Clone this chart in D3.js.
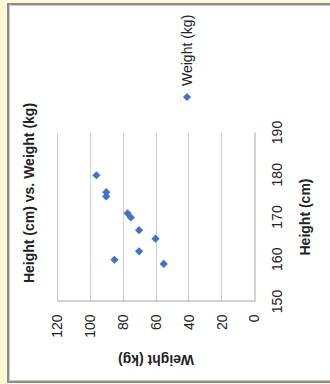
<!DOCTYPE html>
<html><head><meta charset="utf-8">
<script src="https://cdn.jsdelivr.net/npm/d3@7"></script>
<style>html,body{margin:0;padding:0;background:#fff8d4;} svg{display:block}</style>
</head><body>
<svg id="c" width="330" height="384"></svg>
<script>
const heights = [180, 176, 175, 171, 170, 167, 165, 162, 160, 159];
const weights = [96, 90, 90, 77, 75, 70, 60, 70, 85, 55];
const heightTicks = [150, 160, 170, 180, 190];
const weightTicks = [0, 20, 40, 60, 80, 100, 120];
const chartTitle = "Height (cm) vs. Weight (kg)";
const xTitle = "Height (cm)";
const yTitle = "Weight (kg)";
const legendLabel = "Weight (kg)";

const svg = d3.select("#c");
const FONT = "'Liberation Sans', Arial, sans-serif";

// frame
svg.append("rect").attr("x", 7).attr("y", 3).attr("width", 330).attr("height", 380).attr("fill", "#fff");
svg.append("path").attr("d", "M340,4H8V382H340").attr("fill", "none").attr("stroke", "#8c8c8c").attr("stroke-width", 2);
svg.append("path").attr("d", "M340,5.5H9.5V380.5H340").attr("fill", "none").attr("stroke", "#c8c8c8").attr("stroke-width", 1);

// chart drawn in an unrotated 384x330 space, then rotated -90deg
const g = svg.append("g").attr("transform", "translate(0,384) rotate(-90)");

const x = d3.scaleLinear().domain([150, 190]).range([82, 251]);
const y = d3.scaleLinear().domain([0, 120]).range([254, 57]);

// gridlines
g.append("g").selectAll("line").data(weightTicks.filter(d => d > 0)).join("line")
  .attr("x1", x(150)).attr("x2", x(190))
  .attr("y1", d => Math.round(y(d)) + 0.5).attr("y2", d => Math.round(y(d)) + 0.5)
  .attr("stroke", "#cfcfcf").attr("stroke-width", 1);

// axes
const xAxis = d3.axisBottom(x).tickValues(heightTicks).tickSize(0).tickPadding(0);
const yAxis = d3.axisLeft(y).tickValues(weightTicks).tickSize(0).tickPadding(0);

const gx = g.append("g").attr("transform", `translate(0,${Math.round(y(0)) + 0.5})`).call(xAxis);
gx.select(".domain").attr("stroke", "#a6a6a6");
gx.selectAll("text").attr("y", 277 - Math.round(y(0))).attr("dy", "0.35em")
  .attr("font-family", FONT).attr("font-size", 14).attr("fill", "#222");

const gy = g.append("g").attr("transform", `translate(${Math.round(x(150)) + 0.5},0)`).call(yAxis);
gy.select(".domain").attr("stroke", "#a6a6a6");
gy.selectAll("text").attr("x", 69 - Math.round(x(150))).attr("dy", "0.35em")
  .attr("font-family", FONT).attr("font-size", 14).attr("fill", "#222");

// points (square diamonds)
const diamond = d3.symbol().type(d3.symbolSquare).size(34);
g.append("g").selectAll("path").data(heights.map((h, i) => [h, weights[i]])).join("path")
  .attr("d", diamond)
  .attr("transform", d => `translate(${x(d[0])},${y(d[1])}) rotate(45)`)
  .attr("fill", "#4472c4");

// titles
g.append("text").attr("x", 191).attr("y", 29).attr("dy", "0.35em").attr("text-anchor", "middle")
  .attr("font-family", FONT).attr("font-size", 14).attr("font-weight", "bold").attr("fill", "#222")
  .text(chartTitle);
g.append("text").attr("x", 167).attr("y", 305).attr("dy", "0.35em").attr("text-anchor", "middle")
  .attr("font-family", FONT).attr("font-size", 14).attr("font-weight", "bold").attr("fill", "#222")
  .text(xTitle);
g.append("text").attr("transform", "translate(24,156) rotate(-90)").attr("dy", "0.35em").attr("text-anchor", "middle")
  .attr("font-family", FONT).attr("font-size", 14).attr("font-weight", "bold").attr("fill", "#222")
  .text(yTitle);

// legend
const lg = g.append("g").attr("transform", "translate(287,187)");
lg.append("path").attr("d", diamond).attr("transform", "rotate(45)").attr("fill", "#4472c4");
lg.append("text").attr("x", 11).attr("dy", "0.35em")
  .attr("font-family", FONT).attr("font-size", 14).attr("fill", "#222").text(legendLabel);
</script>
</body></html>
